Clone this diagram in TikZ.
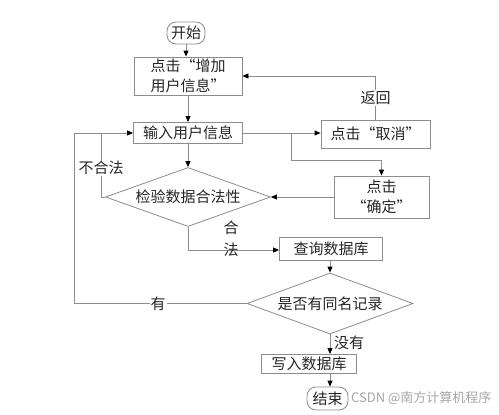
\documentclass[tikz,border=0pt]{standalone}
\usepackage{fontspec}
\setmainfont{Noto Sans CJK SC}
\usetikzlibrary{shapes.geometric,arrows.meta}
\begin{document}
\begin{tikzpicture}[x=1pt,y=-1pt,
 every node/.style={font=\fontsize{15}{20}\selectfont, text=black!85},
 box/.style={draw=black!45, line width=0.8pt, inner sep=0pt, align=center},
 term/.style={box, rounded corners=9pt},
 dia/.style={draw=black!45, line width=0.8pt, diamond, aspect=2.75, inner sep=0pt},
 flow/.style={draw=black!45, line width=0.8pt},
 arr/.style={flow, -{Triangle[length=6pt,width=5pt,color=black]}},
 lbl/.style={fill=white, inner sep=1pt}
]
\useasboundingbox (0,0) rectangle (499,415);

\node[term, minimum width=38pt, minimum height=22pt] (start) at (186,33) {开始};
\node[box, minimum width=108pt, minimum height=38pt] (add) at (188,76) {点击“增加\\用户信息”};
\node[box, minimum width=109pt, minimum height=21pt] (input) at (188,133) {输入用户信息};
\node[box, minimum width=109pt, minimum height=28pt] (cancel) at (375.5,134) {点击“取消”};
\node[box, minimum width=95pt, minimum height=42pt] (confirm) at (381.5,197) {点击\\“确定”};
\node[dia, minimum width=165pt, minimum height=59pt] (check) at (188,197) {检验数据合法性};
\node[box, minimum width=103pt, minimum height=23pt] (query) at (331,249) {查询数据库};
\node[dia, minimum width=166pt, minimum height=61pt] (same) at (330,303.5) {是否有同名记录};
\node[box, minimum width=95pt, minimum height=19pt] (write) at (309,364) {写入数据库};
\node[term, fill=white, minimum width=41pt, minimum height=23pt] (end) at (327.5,398.5) {结束};
\node[font=\fontsize{13}{16}\selectfont, text=black!35, anchor=west, inner sep=0pt] (wm) at (351,398) {CSDN @南方计算机程序};

\draw[arr] (start.south) -- (start.south |- add.north);
\draw[arr] (add) -- (input);
\draw[arr] (input.east) -- (input.east -| cancel.west);
\coordinate (b1) at (291,133);
\coordinate (b2) at (291,160);
\draw[arr] (b1) -- (b2) -| (confirm.north);
\coordinate (r1) at (cancel.north |- add.east);
\draw[arr] (cancel.north) -- (r1) -- (add.east);
\node[lbl] (ret) at (375.5,98) {返回};
\draw[arr] (confirm.west) -- (check.east);
\draw[arr] (input) -- (check);
\coordinate (l1) at (101,133);
\draw[flow] (check.west) -| (l1);
\node[lbl] (illegal) at (101,168) {不合法};
\coordinate (o1) at (74,133);
\draw[arr] (same.west) -| (o1) -- (input.west);
\node[lbl] (yes) at (158,303.5) {有};
\coordinate (d1) at (188,250);
\draw[arr] (check.south) -- (d1) -- (d1 -| query.west);
\node[align=center, font=\fontsize{15}{22}\selectfont] (legal) at (231,239) {合\\法};
\draw[arr] (same.north |- query.south) -- (same.north);
\draw[arr] (same.south) -- (same.south |- write.north);
\node[anchor=west, inner sep=1pt] (no) at (333,343) {没有};
\draw[arr] (same.south |- write.south) -- (same.south |- end.north);
\end{tikzpicture}
\end{document}
